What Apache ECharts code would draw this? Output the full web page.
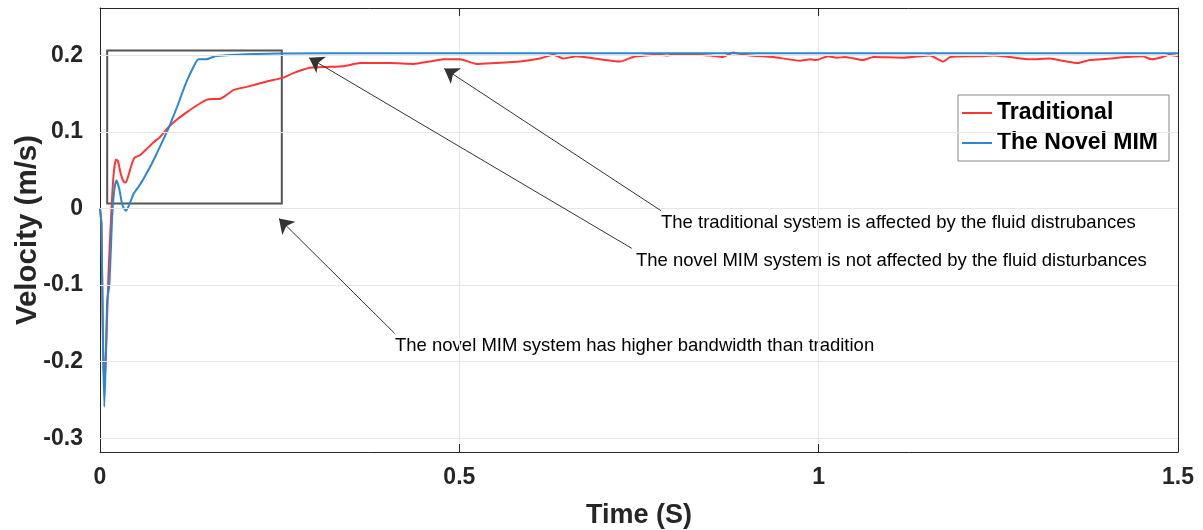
<!DOCTYPE html>
<html>
<head>
<meta charset="utf-8">
<title>Velocity response</title>
<script src="https://cdn.jsdelivr.net/npm/echarts@6/dist/echarts.min.js"></script>
<style>
  html, body { margin: 0; padding: 0; background: #fff; }
  #chart { width: 1203px; height: 530px; }
</style>
</head>
<body>
<div id="chart"></div>
<script>
// time (s) and velocity (m/s)
const tMim = [0, 0.002, 0.004, 0.006, 0.008, 0.010, 0.013, 0.017, 0.020, 0.023, 0.027, 0.031, 0.036,
  0.042, 0.047, 0.051, 0.060, 0.070, 0.079, 0.087, 0.095, 0.101, 0.107, 0.114, 0.121, 0.129, 0.137,
  0.148, 0.160, 0.172, 0.190, 0.218, 0.250, 0.400, 0.800, 1.200, 1.500]
const vMim = [0, -0.02, -0.17, -0.259, -0.2, -0.12, -0.1, -0.01, 0.025, 0.037, 0.025, 0.005, -0.003,
  0.008, 0.02, 0.025, 0.038, 0.055, 0.072, 0.088, 0.104, 0.118, 0.132, 0.150, 0.167, 0.183, 0.195,
  0.195, 0.199, 0.2, 0.201, 0.202, 0.2025, 0.203, 0.203, 0.203, 0.203]

const tTrad = [0, 0.002, 0.004, 0.006, 0.009, 0.012, 0.016, 0.019, 0.022, 0.025, 0.029, 0.033, 0.036,
  0.041, 0.046, 0.049, 0.056, 0.065, 0.075, 0.083, 0.095, 0.108, 0.121, 0.135, 0.148, 0.157, 0.165,
  0.174, 0.186, 0.204, 0.232, 0.255, 0.269, 0.292, 0.316, 0.339, 0.362, 0.383, 0.404, 0.436, 0.458,
  0.478, 0.501, 0.524, 0.547, 0.584, 0.612, 0.631, 0.645, 0.663, 0.696, 0.724, 0.742, 0.775, 0.788,
  0.807, 0.830, 0.849, 0.867, 0.881, 0.886, 0.904, 0.937, 0.974, 0.988, 0.997, 1.013, 1.025, 1.037,
  1.062, 1.076, 1.118, 1.155, 1.173, 1.183, 1.210, 1.229, 1.243, 1.266, 1.294, 1.322, 1.340, 1.361,
  1.377, 1.405, 1.428, 1.451, 1.463, 1.479, 1.488, 1.500]
const vTrad = [0, -0.02, -0.16, -0.24, -0.17, -0.08, 0.0, 0.045, 0.064, 0.062, 0.045, 0.035, 0.034,
  0.048, 0.063, 0.067, 0.07, 0.078, 0.087, 0.093, 0.106, 0.117, 0.126, 0.135, 0.142, 0.143, 0.143,
  0.147, 0.155, 0.159, 0.166, 0.171, 0.177, 0.184, 0.185, 0.186, 0.19, 0.19, 0.19, 0.189, 0.192,
  0.195, 0.195, 0.189, 0.19, 0.192, 0.196, 0.201, 0.196, 0.199, 0.195, 0.192, 0.198, 0.201, 0.2,
  0.202, 0.201, 0.2, 0.198, 0.204, 0.203, 0.2, 0.198, 0.193, 0.195, 0.194, 0.199, 0.197, 0.198,
  0.194, 0.198, 0.197, 0.2, 0.192, 0.198, 0.199, 0.199, 0.2, 0.198, 0.195, 0.196, 0.193, 0.19,
  0.194, 0.196, 0.198, 0.199, 0.195, 0.198, 0.201, 0.199]

const yTicks = [-0.3, -0.2, -0.1, 0, 0.1, 0.2]
const seriesNames = ['Traditional', 'The Novel MIM']

// annotation arrows (data coords): tail -> head
const arrowFrom = [[0.41, -0.163], [0.74, -0.052], [0.781, -0.003]]
const arrowTo = [[0.249, -0.013], [0.291, 0.197], [0.479, 0.183]]
const zoomBox = [[0.01, 0.2065], [0.253, 0.0065]]
const notes = [
  'The traditional system is affected by the fluid distrubances',
  'The novel MIM system is not affected by the fluid disturbances',
  'The novel MIM system has higher bandwidth than tradition'
]

const FONT = "'Liberation Sans', Arial, Helvetica, sans-serif"
const AX = '#262626'
const zip = (a, b) => a.map((x, i) => [x, b[i]])

const chart = echarts.init(document.getElementById('chart'))

const frameLine = { show: true, onZero: false, lineStyle: { color: AX, width: 1 } }

chart.setOption({
  animation: false,
  textStyle: { fontFamily: FONT },
  grid: { left: 100, right: 25, top: 8, bottom: 78, outerBoundsMode: 'none' },
  legend: {
    data: seriesNames,
    orient: 'vertical',
    left: 958,
    top: 95,
    padding: [6, 11, 6, 4],
    itemGap: 6,
    itemWidth: 30,
    itemHeight: 2,
    icon: 'rect',
    backgroundColor: '#fff',
    borderColor: '#888',
    borderWidth: 1,
    borderRadius: 0,
    textStyle: { fontFamily: FONT, fontSize: 23, fontWeight: 'bold', color: '#000', lineHeight: 24 }
  },
  xAxis: [
    {
      type: 'value', min: 0, max: 1.5, interval: 0.5,
      name: 'Time (S)', nameLocation: 'middle', nameGap: 50,
      nameTextStyle: { fontFamily: FONT, fontSize: 27, fontWeight: 'bold', color: AX },
      axisLine: frameLine,
      axisTick: { show: true, inside: true, length: 8, lineStyle: { color: AX } },
      axisLabel: { fontSize: 23, fontWeight: 'bold', color: AX, margin: 14, showMinLabel: true, showMaxLabel: true,
        formatter: v => String(v) },
      splitLine: { show: true, lineStyle: { color: '#e6e6e6', width: 1 } }
    },
    {
      type: 'value', min: 0, max: 1.5, interval: 0.5, position: 'top',
      axisLine: frameLine,
      axisTick: { show: true, inside: true, length: 8, lineStyle: { color: AX } },
      axisLabel: { show: false },
      splitLine: { show: false }
    }
  ],
  yAxis: [
    {
      type: 'value', min: -0.318, max: 0.262,
      name: 'Velocity (m/s)', nameLocation: 'middle', nameGap: 57, nameMoveOverlap: false,
      nameTextStyle: { fontFamily: FONT, fontSize: 29.5, fontWeight: 'bold', color: AX },
      axisLine: frameLine,
      axisTick: { show: true, inside: true, length: 8, lineStyle: { color: AX }, customValues: yTicks },
      axisLabel: { fontSize: 23, fontWeight: 'bold', color: AX, margin: 17, customValues: yTicks,
        formatter: v => (Math.abs(v) < 1e-9 ? '0' : v.toFixed(1)) },
      splitLine: { show: false }
    },
    {
      type: 'value', min: -0.318, max: 0.262, position: 'right',
      axisLine: frameLine,
      axisTick: { show: true, inside: true, length: 8, lineStyle: { color: AX }, customValues: yTicks },
      axisLabel: { show: false },
      splitLine: { show: false }
    }
  ],
  series: [
    {
      // horizontal grid lines
      type: 'line', data: [], z: 1, silent: true,
      markLine: {
        silent: true, symbol: 'none', animation: false,
        label: { show: false },
        lineStyle: { color: '#e6e6e6', width: 1, type: 'solid' },
        data: yTicks.map(v => ({ yAxis: v }))
      }
    },
    {
      name: seriesNames[0], type: 'line', data: zip(tTrad, vTrad),
      showSymbol: false, smooth: 0.15, z: 3,
      lineStyle: { color: '#ff3535', width: 2 }, itemStyle: { color: '#ff3535' }
    },
    {
      name: seriesNames[1], type: 'line', data: zip(tMim, vMim),
      showSymbol: false, smooth: 0.2, z: 4,
      lineStyle: { color: '#2b88cf', width: 2 }, itemStyle: { color: '#2b88cf' }
    },
    {
      // annotations: zoom box + arrows
      type: 'line', data: [], z: 5, silent: true,
      markArea: {
        silent: true,
        itemStyle: { color: 'rgba(0,0,0,0)', borderColor: '#555', borderWidth: 2 },
        data: [[{ coord: zoomBox[0] }, { coord: zoomBox[1] }]]
      },
      markLine: {
        silent: true, symbol: ['none', 'arrow'], symbolSize: 14, animation: false,
        label: { show: false },
        lineStyle: { color: '#333', width: 1, type: 'solid' },
        data: arrowFrom.map((p, i) => [{ coord: p }, { coord: arrowTo[i] }])
      }
    }
  ],
  graphic: [
    { type: 'text', left: 661, top: 213, style: { text: notes[0], font: '18.5px ' + FONT, fill: '#000' } },
    { type: 'text', left: 636, top: 251, style: { text: notes[1], font: '18.5px ' + FONT, fill: '#000' } },
    { type: 'text', left: 395, top: 336, style: { text: notes[2], font: '18.5px ' + FONT, fill: '#000' } }
  ]
})
</script>
</body>
</html>
